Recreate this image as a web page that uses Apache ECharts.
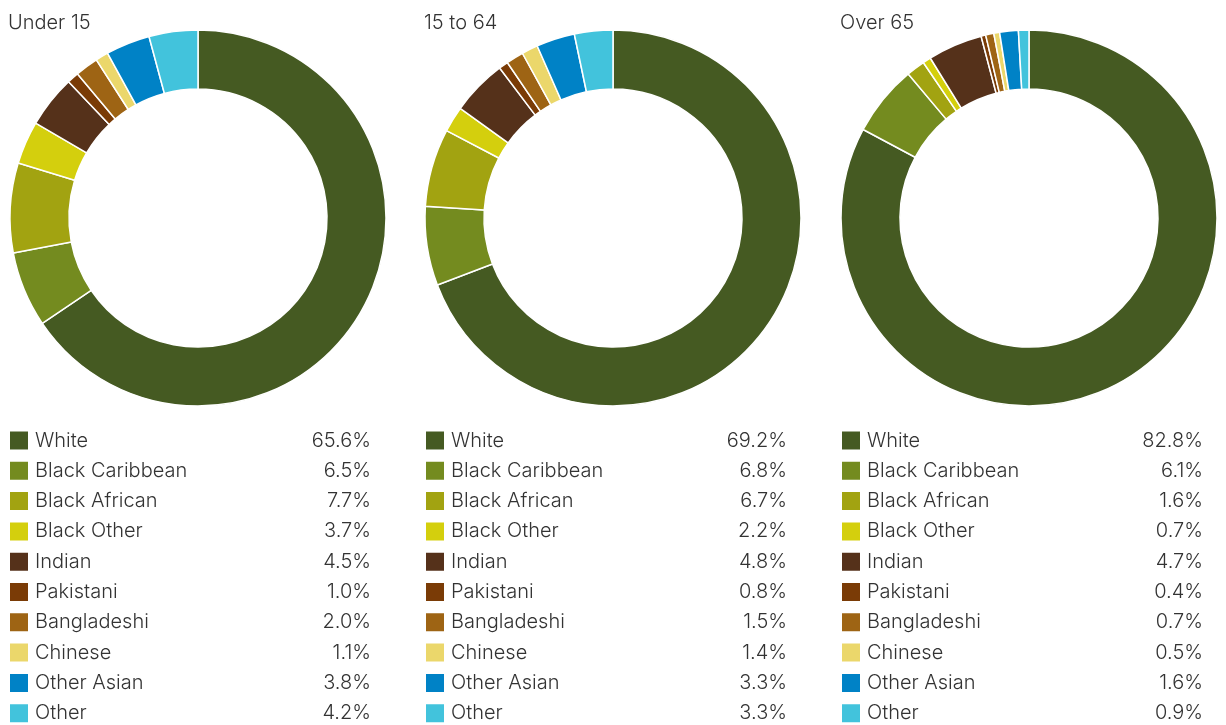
<!DOCTYPE html>
<html><head><meta charset="utf-8">
<script src="https://cdn.jsdelivr.net/npm/echarts@6/dist/echarts.min.js"></script>
<style>html,body{margin:0;padding:0;background:#fff}#c{width:1226px;height:725px}</style>
</head><body><div id="c"></div>
<script>
const categories = ['White','Black Caribbean','Black African','Black Other','Indian','Pakistani','Bangladeshi','Chinese','Other Asian','Other'];
const colors = ['#455a22','#748b1f','#a2a311','#d4cf0d','#55311a','#7a3b06','#9e6414','#ebd76b','#0082c6','#42c3dc'];
const groups = ['Under 15','15 to 64','Over 65'];
const under15 = [65.6,6.5,7.7,3.7,4.5,1.0,2.0,1.1,3.8,4.2];
const age15to64 = [69.2,6.8,6.7,2.2,4.8,0.8,1.5,1.4,3.3,3.3];
const over65 = [82.8,6.1,1.6,0.7,4.7,0.4,0.7,0.5,1.6,0.9];
const values = [under15, age15to64, over65];

const FONT = 'Inter';
const colX = [0, 416, 832];
const centers = [198, 613, 1029];

const chart = echarts.init(document.getElementById('c'), null, {renderer:'canvas'});
const option = {
  animation:false,
  color: colors,
  title: groups.map((g,i)=>({text:g, left: 8+colX[i], top: 13, padding:0,
    textStyle:{fontFamily:FONT, fontSize:20, fontWeight:300, color:'#333'}})),
  legend: values.map((vals,i)=>({
    orient:'vertical', left: 8+colX[i], top: 429.5, height: 295, padding:0,
    itemWidth:20, itemHeight:20, itemGap:8.3, icon:'rect',
    selectedMode:false,
    data: categories,
    formatter: (name)=>'{n|'+name+'}{v|'+vals[categories.indexOf(name)].toFixed(1)+'%}',
    textStyle:{fontFamily:FONT, fontSize:20, fontWeight:300, color:'#333', padding:[0,0,0,1],
      rich:{n:{width:270,fontFamily:FONT,fontSize:20,fontWeight:300,color:'#333',lineHeight:20},
            v:{width:66,align:'right',fontFamily:FONT,fontSize:20,fontWeight:300,color:'#333',lineHeight:20}}}
  })),
  series: values.map((vals,i)=>({
    type:'pie', center:[centers[i],218], radius:[129,188], startAngle:90, clockwise:true,
    label:{show:false}, labelLine:{show:false}, silent:true,
    itemStyle:{borderColor:'#fff', borderWidth:1.5},
    data: categories.map((c,k)=>({name:c, value:vals[k]}))
  }))
};
chart.setOption(option);
</script></body></html>
